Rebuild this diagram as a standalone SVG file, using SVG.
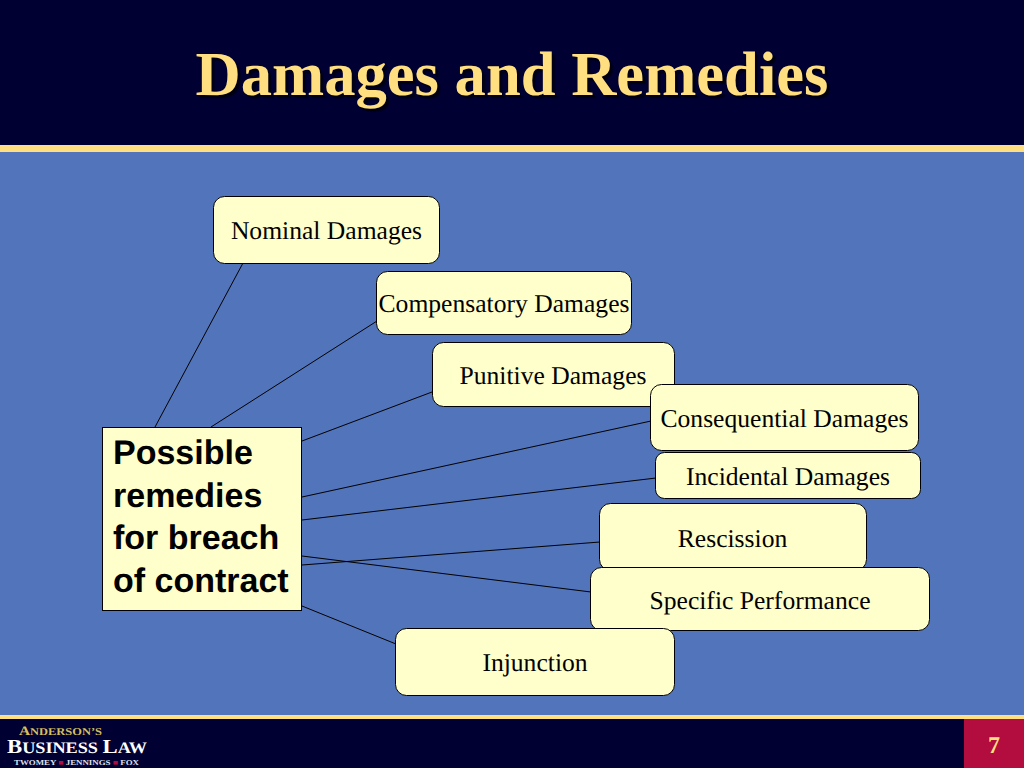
<svg xmlns="http://www.w3.org/2000/svg" width="1024" height="768" viewBox="0 0 1024 768">
<defs><style>
text{text-rendering:geometricPrecision}
.n{fill:#ffffcc;stroke:#000;stroke-width:1}
.t{font-family:"Liberation Serif",serif;font-size:25.6px;fill:#000;text-anchor:middle}
.c line{stroke:#000;stroke-width:1}
.b{font-family:"Liberation Sans",sans-serif;font-size:34px;font-weight:bold;fill:#000}
.title{font-family:"Liberation Serif",serif;font-size:62.6px;font-weight:bold;fill:#ffdf80;text-anchor:middle;text-shadow:3px 3px 1px rgba(0,0,0,.65)}
.logo{font-family:"Liberation Serif",serif;font-weight:bold}
</style></defs>
<rect width="1024" height="768" fill="#5274ba"/>
<rect width="1024" height="145" fill="#000033"/>
<rect y="145" width="1024" height="7" fill="#ffdf80"/>
<rect y="715" width="1024" height="53" fill="#000033"/>
<rect y="715" width="1024" height="4" fill="#ffdf80"/>
<rect x="964" y="719" width="60" height="49" fill="#b30c3e"/>
<text class="title" x="512" y="95">Damages and Remedies</text>
<text x="994" y="753" text-anchor="middle" font-family="Liberation Serif,serif" font-size="24" font-weight="bold" fill="#ffdf80">7</text>
<g class="c">
<line x1="155" y1="427" x2="243" y2="263"/>
<line x1="211" y1="427" x2="377" y2="321"/>
<line x1="302" y1="441" x2="432" y2="392"/>
<line x1="302" y1="497" x2="651" y2="421"/>
<line x1="302" y1="520" x2="656" y2="478"/>
<line x1="302" y1="565" x2="600" y2="542"/>
<line x1="302" y1="556" x2="591" y2="592"/>
<line x1="302" y1="606" x2="396" y2="644"/>
</g>
<g id="n1"><rect class="n" x="213.500" y="196.500" width="226" height="67" rx="11"/><text class="t" x="326.500" y="239">Nominal Damages</text></g>
<g id="n2"><rect class="n" x="376.500" y="271.500" width="255" height="63" rx="11"/><text class="t" x="504" y="312">Compensatory Damages</text></g>
<g id="n3"><rect class="n" x="432.500" y="342.500" width="242" height="64" rx="11"/><text class="t" x="553" y="384">Punitive Damages</text></g>
<g id="n4"><rect class="n" x="650.500" y="384.500" width="268" height="66" rx="11"/><text class="t" x="784.500" y="427">Consequential Damages</text></g>
<g id="n5"><rect class="n" x="655.500" y="452.500" width="265" height="46" rx="9"/><text class="t" x="788" y="485">Incidental Damages</text></g>
<g id="n6"><rect class="n" x="599.500" y="503.500" width="267" height="67" rx="11"/><text class="t" x="732.500" y="547">Rescission</text></g>
<g id="n7"><rect class="n" x="590.500" y="567.500" width="339" height="63" rx="11"/><text class="t" x="760" y="608.500">Specific Performance</text></g>
<g id="n8"><rect class="n" x="395.500" y="628.500" width="279" height="67" rx="11"/><text class="t" x="535" y="671">Injunction</text></g>
<g id="main"><rect x="102.500" y="427.500" width="199" height="183" fill="#ffffcc" stroke="#000"/>
<text class="b" x="113" y="464">Possible</text><text class="b" x="113" y="507">remedies</text><text class="b" x="113" y="549">for breach</text><text class="b" x="113" y="592">of contract</text></g>
<g id="logo" class="logo">
<text x="19" y="734.500" font-size="10.500" fill="#d9bf5a" textLength="83" lengthAdjust="spacingAndGlyphs"><tspan font-size="13">A</tspan>NDERSON’S</text>
<text x="7" y="753" font-size="16" fill="#fff" textLength="140" lengthAdjust="spacingAndGlyphs"><tspan font-size="20">B</tspan>USINESS <tspan font-size="20">L</tspan>AW</text>
<text x="14" y="764.500" font-size="7.500" fill="#dfe0e8" textLength="125" lengthAdjust="spacingAndGlyphs" xml:space="preserve">TWOMEY <tspan fill="#b30c3e">■</tspan> JENNINGS <tspan fill="#b30c3e">■</tspan> FOX</text>
</g>
</svg>
